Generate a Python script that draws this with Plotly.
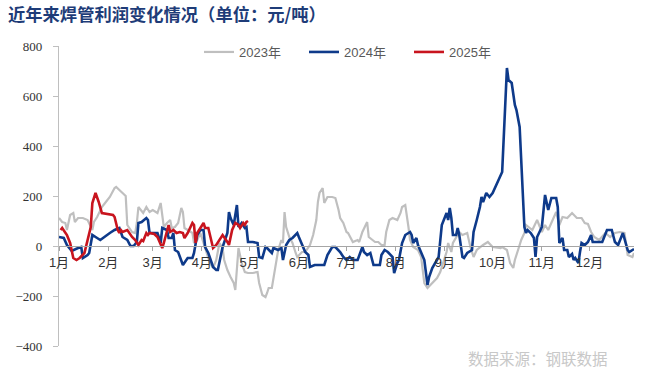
import plotly.graph_objects as go

# ---- data (x = day of year, y = profit 元/吨) ----
month_days = [0, 31, 59, 90, 120, 151, 181, 212, 243, 273, 304, 334]
month_labels = ["1月", "2月", "3月", "4月", "5月", "6月", "7月", "8月", "9月", "10月", "11月", "12月"]

y2023_day = [0, 2, 4, 5, 7, 9, 10, 12, 15, 18, 21, 22, 24, 27, 29, 32, 35, 36, 38, 40, 42, 43, 46, 48, 49, 50,
             53, 55, 57, 59, 62, 64, 65, 66, 68, 70, 71, 73, 75, 77, 78, 79, 81, 84, 85, 87, 89, 91, 93, 95, 97,
             99, 101, 103, 104, 106, 108, 110, 111, 113, 115, 117, 119, 122, 125, 126, 128, 130, 131, 132, 134,
             136, 138, 140, 141, 142, 143, 145, 147, 149, 150, 153, 155, 158, 160, 162, 163, 164, 166, 167, 169,
             172, 174, 176, 177, 179, 181, 182, 184, 185, 188, 189, 191, 193, 194, 195, 197, 199, 201, 203, 205,
             206, 208, 210, 213, 215, 216, 218, 220, 221, 223, 226, 228, 230, 232, 235, 238, 240, 242, 244, 245,
             247, 248, 250, 252, 254, 257, 259, 261, 263, 265, 267, 270, 273, 278, 279, 282, 284, 286, 287, 289,
             291, 293, 294, 298, 301, 304, 306, 308, 310, 313, 315, 317, 320, 322, 323, 326, 329, 331, 333, 335,
             337, 340, 344, 347, 350, 353, 356, 358, 361, 362]
y2023_val = [112, 96, 92, 64, 124, 132, 96, 112, 112, 104, 64, 96, 116, 156, 172, 196, 232, 236, 224, 212, 200, 84,
             56, 52, 92, 156, 132, 156, 136, 144, 132, 172, 116, 76, 92, 104, 72, 76, 92, 152, 136, 72, 64, 52, 12,
             24, 52, 12, -36, -68, -88, -56, 12, -8, -56, -96, -124, -148, -176, -8, -68, -104, -108, -108, -104,
             -148, -196, -204, -188, -168, -168, -84, -16, 24, 12, 136, 76, 36, 12, -28, -44, -24, -24, 4, 44, 104,
             176, 212, 232, 172, 196, 196, 192, 144, 112, 92, 56, 52, 24, 16, 24, 16, 56, 84, 96, 36, 24, 16, 16,
             4, 4, 56, 104, 112, 104, 132, 156, 164, 76, 24, -4, -16, -44, -148, -168, -148, -128, -104, -64, -24,
             12, -24, 12, 36, 56, 44, 52, -4, -44, -16, -4, 4, 16, -4, -8, -4, -16, -68, -88, -56, -16, 24, 52, 84,
             64, 104, 56, 84, 64, 92, 136, 84, 116, 112, 124, 132, 112, 112, 92, 88, 56, 36, 24, 52, 36, 52, 56,
             52, -36, -44, -28]

y2024_day = [0, 3, 5, 8, 12, 14, 15, 18, 19, 21, 24, 26, 32, 35, 38, 40, 43, 45, 47, 49, 50, 52, 55, 56, 57, 60,
             62, 64, 65, 68, 69, 71, 72, 73, 75, 78, 81, 84, 85, 87, 89, 91, 92, 94, 97, 99, 100, 103, 106, 107,
             108, 110, 112, 113, 115, 117, 118, 119, 122, 125, 126, 128, 130, 131, 134, 135, 138, 140, 141, 143,
             145, 147, 150, 151, 153, 155, 157, 158, 161, 167, 169, 172, 174, 176, 177, 179, 181, 183, 185, 188,
             191, 192, 194, 196, 198, 202, 203, 205, 207, 210, 211, 213, 214, 216, 218, 221, 222, 223, 225, 226,
             228, 230, 232, 233, 235, 239, 241, 243, 244, 245, 246, 247, 248, 250, 251, 252, 254, 255, 257, 260,
             261, 263, 265, 266, 267, 269, 271, 273, 279, 282, 283, 285, 287, 288, 290, 293, 294, 295, 297, 299,
             300, 301, 304, 306, 308, 310, 313, 314, 315, 317, 318, 320, 321, 323, 324, 325, 327, 328, 329, 331,
             333, 335, 336, 342, 345, 348, 350, 352, 355, 358, 359, 362]
y2024_val = [36, 32, 4, -20, -8, -4, -48, -36, -28, 44, 32, 24, 52, 64, 72, 36, 24, 0, 0, 16, 92, 96, 112, 104, 52,
             52, 52, 12, 72, 64, 32, 32, 52, -16, -24, -76, -48, -48, -28, 44, 64, 64, -4, -28, -84, -96, -96, -4,
             52, 136, 112, 84, 164, 76, 92, 72, 76, 16, 16, 12, -44, -48, -4, -8, -28, -8, -16, -8, -56, 4, 24, 32,
             52, 36, 4, -24, -36, -84, -76, -76, -36, -4, -4, -16, -24, -44, -56, -44, -56, -56, -4, -24, -36, -28,
             -76, -76, -36, -16, -24, -44, -108, -68, -56, 12, 44, 56, 44, 12, 32, 4, -28, -56, -156, -124, -88,
             -44, 84, 116, 132, 104, 152, 112, 44, 44, 72, 44, -44, -48, -28, -16, 56, 104, 156, 196, 176, 212, 196,
             212, 296, 712, 664, 652, 564, 544, 476, 76, 52, 64, 52, 32, -44, 36, 76, 204, 144, 192, 192, 156, 12,
             32, -16, -16, -44, -32, -56, -48, -68, -24, 12, 4, 16, 44, 16, 16, 64, 64, 16, 4, 52, -16, -24, -12]

y2025_day = [1, 2, 5, 7, 9, 11, 13, 16, 20, 21, 23, 24, 25, 27, 34, 35, 37, 38, 39, 40, 43, 46, 48, 50, 52, 53, 55,
             56, 57, 60, 62, 65, 66, 69, 70, 72, 74, 76, 78, 79, 81, 84, 85, 86, 87, 91, 92, 94, 97, 99, 101, 103,
             106, 107, 109, 111, 113, 114, 116, 117, 118, 119]
y2025_val = [64, 72, 44, 12, -48, -56, -48, -28, 76, 172, 212, 196, 176, 132, 124, 116, 64, 52, 64, 56, 64, 36, 24,
             4, 24, 20, 52, 44, 52, 48, 36, -8, 12, 84, 56, 64, 52, 56, 52, 32, 52, 92, 84, 12, 52, 92, 72, 72, -8,
             4, 24, 44, 16, 4, 64, 92, 84, 72, 92, 84, 96, 100]

series = [
    ("2023年", y2023_day, y2023_val, "#BFBFBF", 2.2),
    ("2024年", y2024_day, y2024_val, "#0E3A8A", 2.6),
    ("2025年", y2025_day, y2025_val, "#C8141E", 2.6),
]

fig = go.Figure()
for name, xd, yv, color, w in series:
    fig.add_trace(go.Scatter(x=xd, y=yv, mode="lines", name=name,
                             line=dict(color=color, width=w)))

fig.update_layout(
    width=660, height=374,
    margin=dict(l=59, r=26, t=46, b=28, autoexpand=False),
    paper_bgcolor="white", plot_bgcolor="white",
    showlegend=True,
    legend=dict(orientation="h", x=(199 - 59) / 575, xanchor="left", y=(346 - 52) / 300, yanchor="middle",
                font=dict(family="Liberation Sans, Noto Sans CJK SC", size=13, color="#595959"),
                entrywidth=60, entrywidthmode="pixels", bgcolor="rgba(0,0,0,0)",
                traceorder="normal"),
    xaxis=dict(range=[0, 362], tickmode="array", tickvals=month_days, ticktext=month_labels,
               anchor="free", position=1/3, showline=True, linecolor="#A6A6A6", linewidth=1.2,
               ticks="outside", ticklen=4, tickcolor="#A6A6A6", showgrid=False, zeroline=False,
               automargin=False,
               tickfont=dict(family="Liberation Sans, Noto Sans CJK SC", size=13, color="#333333"),
               ticklabelstandoff=0),
    yaxis=dict(range=[-400, 800], tickvals=[-400, -200, 0, 200, 400, 600, 800],
               showline=True, linecolor="#BFBFBF", linewidth=1.2, ticks="outside", ticklen=5,
               tickcolor="#BFBFBF", showgrid=False, zeroline=False, automargin=False,
               tickfont=dict(family="Liberation Serif, Times New Roman", size=13, color="#333333"),
               ticklabelstandoff=8),
    title=dict(text="<b>近年来焊管利润变化情况（单位：元/吨）</b>", x=8/660, xanchor="left",
               y=1 - 15/374, yanchor="middle", pad=dict(l=0, r=0, t=0, b=0),
               font=dict(family="Noto Sans CJK SC", size=17.3, color="#1E3C78")),
)

fig.add_annotation(text="数据来源：钢联数据", xref="paper", yref="paper",
                   x=(610 - 59) / 575, xanchor="right", y=-(358 - 346) / 300, yanchor="middle",
                   showarrow=False, font=dict(family="Noto Sans CJK SC", size=15.5, color="#C8C8C8"))

fig.write_html("out.html", config={"displayModeBar": False},
               post_script="document.body.style.margin='0';document.body.style.overflow='hidden';")
